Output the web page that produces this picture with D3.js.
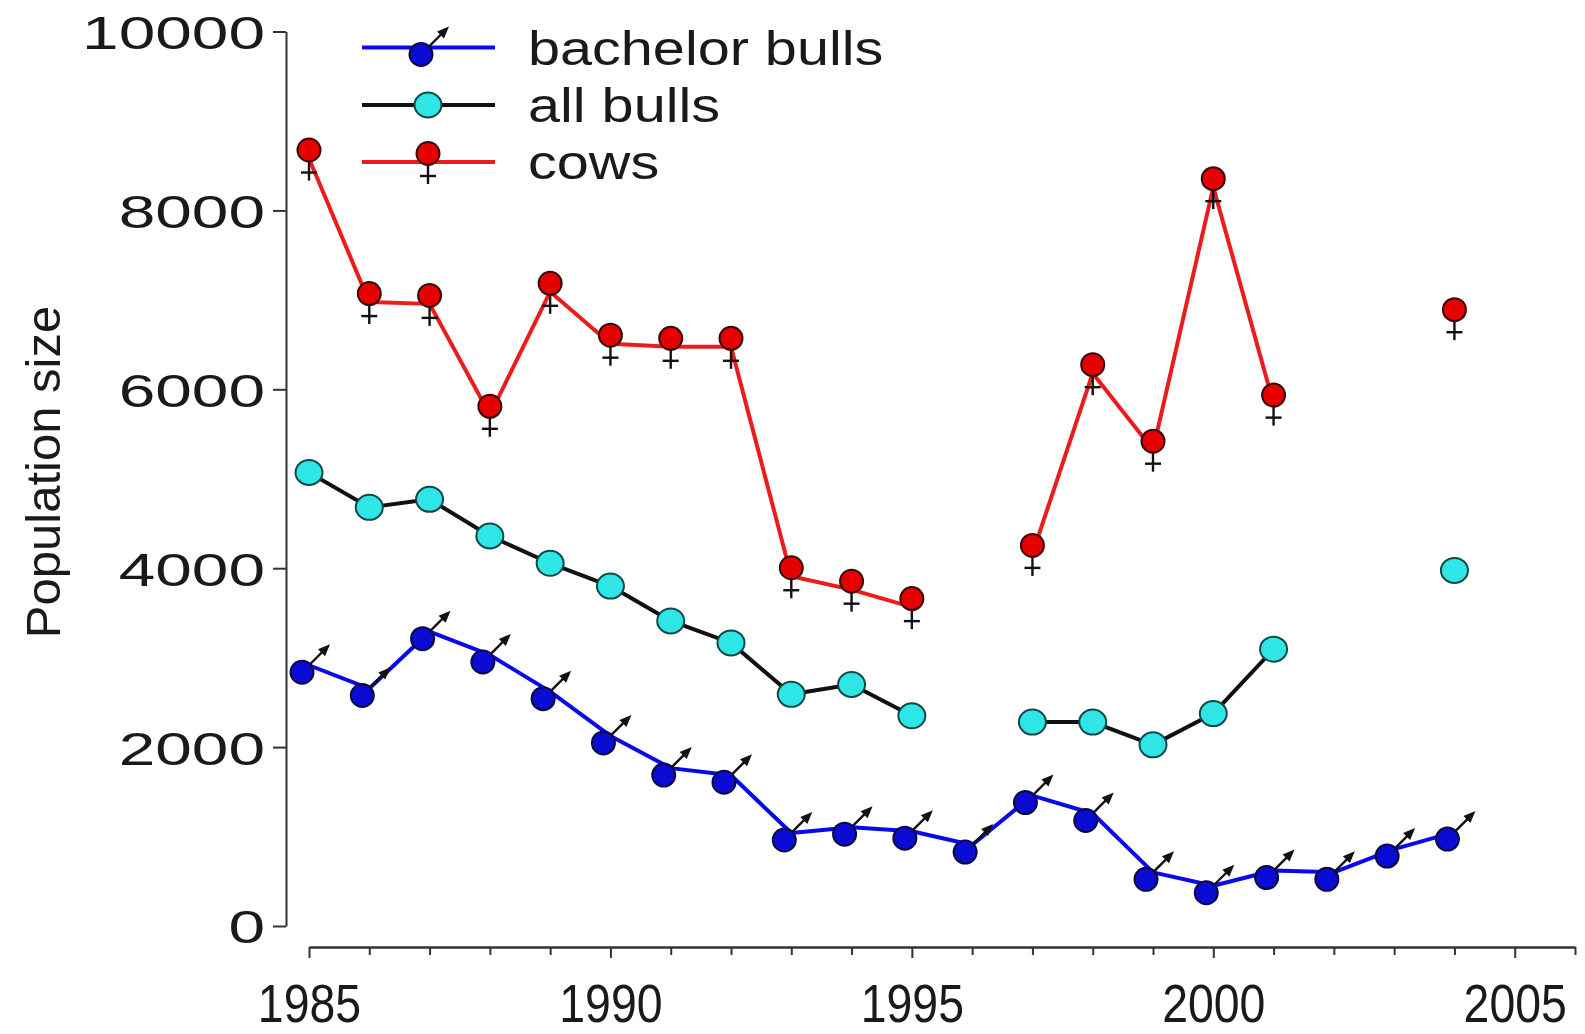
<!DOCTYPE html>
<html><head><meta charset="utf-8">
<script src="https://cdn.jsdelivr.net/npm/d3@7/dist/d3.min.js"></script>
<style>
html,body{margin:0;padding:0;background:#fff;}
svg{display:block;font-family:"Liberation Sans",Arial,sans-serif;}
</style></head>
<body><svg id="c" width="1585" height="1034"></svg>
<script>
// ---- data ----
const years = [1985,1986,1987,1988,1989,1990,1991,1992,1993,1994,1995,1996,1997,1998,1999,2000,2001,2002,2003,2004];
const bachelorBulls = [2915,2655,3290,3030,2620,2125,1765,1685,1040,1105,1060,905,1458,1258,600,450,620,600,860,1050];
const allBulls = [5070,4680,4770,4360,4055,3800,3410,3165,2590,2700,2350,null,2280,2280,2025,2375,3095,null,null,3975];
const cows = [8580,6975,6955,5715,7090,6510,6475,6475,3910,3760,3565,null,4160,6180,5325,8260,5840,null,null,6795];
const yTicks = [0,2000,4000,6000,8000,10000];
const xLabelYears = [1985,1990,1995,2000,2005];
const seriesNames = ["bachelor bulls","all bulls","cows"];
const yTitle = "Population size";

const svg = d3.select("#c");
const x = d3.scaleLinear().domain([1985,2006]).range([309,1575]);
const y = d3.scaleLinear().domain([0,10000]).range([926,31.5]);

// y axis
const gy = svg.append("g").attr("transform","translate(286,0)")
  .call(d3.axisLeft(y).tickValues(yTicks).tickSize(13).tickSizeOuter(0).tickFormat(d3.format("d")));
gy.select(".domain").attr("stroke","#333").attr("stroke-width",2);
gy.selectAll(".tick line").attr("stroke","#333").attr("stroke-width",2);
gy.selectAll(".tick text").attr("x",null).attr("dy","0.36em")
  .attr("font-size",47).attr("fill","#1a1a1a").attr("text-anchor","end")
  .attr("transform","translate(-21,0) scale(1.4,1)");

// x axis
const gx = svg.append("g").attr("transform","translate(0,947)")
  .call(d3.axisBottom(x).tickValues(d3.range(1985,2007)).tickSize(8).tickSizeOuter(0)
    .tickFormat(d => xLabelYears.includes(d) ? String(d) : ""));
gx.select(".domain").attr("stroke","#333").attr("stroke-width",2.5);
gx.selectAll(".tick line").attr("stroke","#333").attr("stroke-width",2)
  .attr("y2", d => d % 5 === 0 ? 11 : 8);
gx.selectAll(".tick text").attr("y",37).attr("font-size",54).attr("fill","#1a1a1a")
  .attr("transform","scale(0.86,1)")
  .attr("x", d => 0);

// y title
svg.append("text").attr("transform","translate(60,472) rotate(-90)")
  .attr("text-anchor","middle").attr("font-size",49).attr("fill","#1a1a1a").text(yTitle);

const blueLine = "#0a0ae8", blueFill = "#0b0bd6";
const redLine = "#ec1c1c", redFill = "#e60000";
const cyanFill = "#2ee6e6";

function mkData(vals){ return years.map((yr,i)=>({yr, v: vals[i]})); }
const line = d3.line().defined(d=>d.v!=null).x(d=>x(d.yr)).y(d=>y(d.v));

// marker drawers
function female(g){
  g.append("line").attr("x1",0).attr("y1",0).attr("x2",0).attr("y2",22).attr("stroke","#111").attr("stroke-width",2.4);
  g.append("line").attr("x1",-8).attr("y1",14).attr("x2",8).attr("y2",14).attr("stroke","#111").attr("stroke-width",2.4);
  g.append("circle").attr("cx",0).attr("cy",-8.5).attr("r",11.5).attr("fill",redFill).attr("stroke","#3a0a0a").attr("stroke-width",2);
}
function male(g){
  g.append("line").attr("x1",-2).attr("y1",2).attr("x2",14).attr("y2",-14).attr("stroke","#111").attr("stroke-width",2.4);
  g.append("path").attr("d","M21,-21 L9,-16 L16,-9 Z").attr("fill","#111");
  g.append("circle").attr("cx",-7).attr("cy",7).attr("r",11.5).attr("fill",blueFill).attr("stroke","#0a0a40").attr("stroke-width",2);
}
function plain(g){
  g.append("ellipse").attr("cx",0).attr("cy",0).attr("rx",13.5).attr("ry",12.5).attr("fill",cyanFill).attr("stroke","#124848").attr("stroke-width",2);
}

const series = [
  {name: seriesNames[2], vals: cows, color: redLine, mk: female},
  {name: seriesNames[1], vals: allBulls, color: "#111", mk: plain},
  {name: seriesNames[0], vals: bachelorBulls, color: blueLine, mk: male}
];

series.forEach(s=>{
  const data = mkData(s.vals);
  svg.append("path").datum(data).attr("d",line).attr("fill","none")
    .attr("stroke",s.color).attr("stroke-width",4).attr("stroke-linejoin","round");
});
series.forEach(s=>{
  const data = mkData(s.vals).filter(d=>d.v!=null);
  svg.append("g").selectAll("g").data(data).join("g")
    .attr("transform",d=>`translate(${x(d.yr)},${y(d.v)})`)
    .each(function(){ s.mk(d3.select(this)); });
});

// legend
const legend = [
  {name: seriesNames[0], color: blueLine, mk: male, yy: 47.5},
  {name: seriesNames[1], color: "#111", mk: plain, yy: 105},
  {name: seriesNames[2], color: redLine, mk: female, yy: 162}
];
legend.forEach(l=>{
  const g = svg.append("g").attr("transform",`translate(0,${l.yy})`);
  g.append("line").attr("x1",362).attr("x2",495).attr("y1",0).attr("y2",0).attr("stroke",l.color).attr("stroke-width",4);
  const m = g.append("g").attr("transform","translate(428,0)"); l.mk(m);
  g.append("text").attr("transform","translate(528,0) scale(1.2,1)").attr("dy","0.36em")
    .attr("font-size",48).attr("fill","#1a1a1a").text(l.name);
});
</script></body></html>
